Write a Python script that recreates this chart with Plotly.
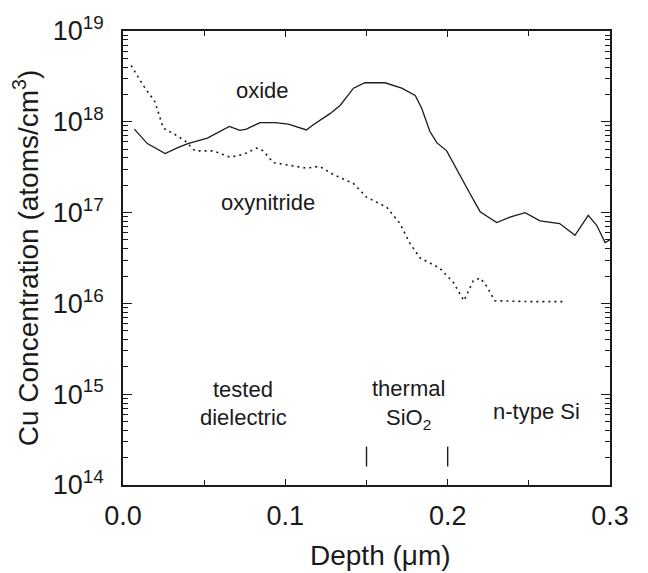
import numpy as np
import plotly.graph_objects as go

# Oxide (solid) profile: depth (um), log10 Cu concentration (atoms/cm^3)
oxide_depth = [0.007, 0.015, 0.026, 0.033, 0.040, 0.052, 0.0655, 0.072, 0.076, 0.0844, 0.0936,
               0.1019, 0.113, 0.117, 0.1275, 0.1337, 0.142, 0.149, 0.1614, 0.1717, 0.180,
               0.184, 0.189, 0.1933, 0.1994, 0.2076, 0.2137, 0.220, 0.2302, 0.2384, 0.2477,
               0.2569, 0.269, 0.2784, 0.2866, 0.2918, 0.297, 0.300]
oxide_logc = [17.92, 17.76, 17.65, 17.71, 17.76, 17.82, 17.95, 17.905, 17.92, 17.99, 17.99,
              17.975, 17.91, 17.965, 18.09, 18.18, 18.37, 18.43, 18.43, 18.37, 18.29,
              18.15, 17.895, 17.77, 17.68, 17.42, 17.21, 17.01, 16.89, 16.95, 17.0,
              16.91, 16.88, 16.75, 16.97, 16.86, 16.67, 16.70]

# Oxynitride (dotted) profile
oxyn_depth = [0.005, 0.0125, 0.0197, 0.0248, 0.032, 0.0382, 0.0444, 0.0556, 0.066, 0.074,
              0.0824, 0.0864, 0.0926, 0.101, 0.113, 0.121, 0.1296, 0.142, 0.150, 0.1624,
              0.1706, 0.1768, 0.183, 0.195, 0.2035, 0.210, 0.2158, 0.220, 0.224, 0.229,
              0.2487, 0.272]
oxyn_logc = [18.62, 18.40, 18.22, 17.93, 17.86, 17.79, 17.68, 17.68, 17.61, 17.64,
             17.71, 17.68, 17.55, 17.525, 17.49, 17.51, 17.42, 17.32, 17.17, 17.06,
             16.88, 16.66, 16.50, 16.39, 16.23, 16.03, 16.25, 16.28, 16.19, 16.03,
             16.02, 16.02]

oxide_conc = [10 ** v for v in oxide_logc]
oxyn_conc = [10 ** v for v in oxyn_logc]

# Layer boundary markers (depth in um) and their vertical extent
boundary_depths = [0.15, 0.20]
boundary_span = [1.6e14, 2.65e14]

# Tick labels
x_tickvals = [0.0, 0.1, 0.2, 0.3]
x_ticktext = ["0.0", "0.1", "0.2", "0.3"]
y_exponents = [14, 15, 16, 17, 18, 19]
y_tickvals = [10 ** e for e in y_exponents]
y_ticktext = ["10<sup>%d</sup>" % e for e in y_exponents]

# Text labels: (text, depth, concentration)
labels = [
    ("oxide", 0.0862, 2.2e18),
    ("oxynitride", 0.0893, 1.29e17),
    ("tested", 0.0739, 1.13e15),
    ("dielectric", 0.0745, 5.6e14),
    ("thermal", 0.176, 1.15e15),
    ("SiO<sub>2</sub>", 0.176, 5.3e14),
    ("n-type Si", 0.255, 6.4e14),
]

x_title = "Depth (\u03bcm)"
y_title = "Cu Concentration (atoms/cm<sup>3</sup>)"

ink = "#1a1a1a"
fam = "Liberation Sans, Arial"
fig = go.Figure()
fig.add_trace(go.Scatter(x=oxide_depth, y=oxide_conc, mode="lines",
                         line=dict(color=ink, width=1.3), showlegend=False))
fig.add_trace(go.Scatter(x=oxyn_depth, y=oxyn_conc, mode="lines",
                         line=dict(color=ink, width=1.6, dash="2px,4px"), showlegend=False))
for d in boundary_depths:
    fig.add_trace(go.Scatter(x=[d, d], y=boundary_span, mode="lines",
                             line=dict(color=ink, width=1.4), showlegend=False))

for text, xd, yc in labels:
    fig.add_annotation(x=xd, y=np.log10(yc), text=text, showarrow=False,
                       font=dict(size=22, color=ink, family=fam),
                       xanchor="center", yanchor="middle")

# x-axis title placed slightly right of centre, as in the reference
fig.add_annotation(x=0.528, y=0, xref="paper", yref="paper", yshift=-53,
                   text=x_title, showarrow=False, xanchor="center", yanchor="top",
                   font=dict(size=28, color=ink, family=fam))

fig.update_xaxes(range=[0, 0.3], tickvals=x_tickvals, ticktext=x_ticktext,
                 ticks="inside", ticklen=6, tickwidth=1, tickcolor=ink,
                 minor=dict(dtick=0.05, ticks="inside", ticklen=5, tickcolor=ink),
                 showline=True, linecolor=ink, linewidth=1.5, mirror="ticks",
                 showgrid=False, zeroline=False, ticklabelstandoff=6,
                 tickfont=dict(size=27, color=ink, family=fam))
fig.update_yaxes(type="log", range=[14, 19], tickvals=y_tickvals, ticktext=y_ticktext,
                 ticks="inside", ticklen=9, tickwidth=1, tickcolor=ink,
                 minor=dict(ticks="inside", ticklen=5, tickcolor=ink, dtick="D1"),
                 showline=True, linecolor=ink, linewidth=1.5, mirror="ticks",
                 showgrid=False, zeroline=False, ticklabelstandoff=12,
                 title=dict(text=y_title, font=dict(size=28, color=ink, family=fam), standoff=6),
                 tickfont=dict(size=27, color=ink, family=fam))

fig.update_layout(width=648, height=573, margin=dict(l=123, r=38, t=25, b=88),
                  paper_bgcolor="white", plot_bgcolor="white",
                  font=dict(family=fam, color=ink))

fig.write_html("out.html")
